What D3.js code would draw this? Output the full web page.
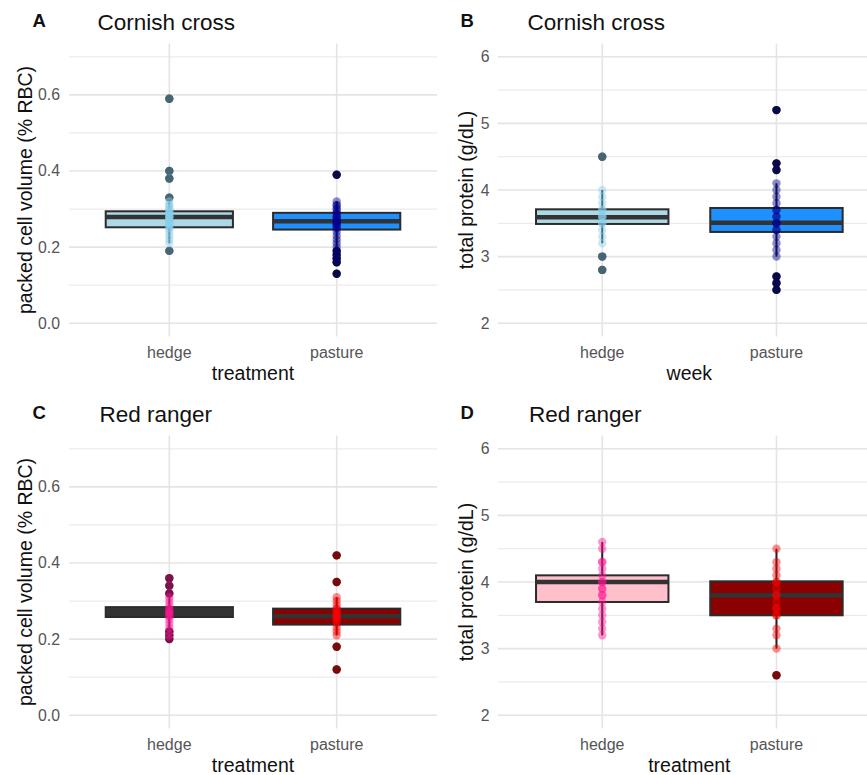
<!DOCTYPE html>
<html>
<head>
<meta charset="utf-8">
<script src="https://cdn.jsdelivr.net/npm/d3@7"></script>
<style>
  body { margin: 0; background: #fff; }
  svg { font-family: "Liberation Sans", Arial, sans-serif; }
</style>
</head>
<body>
<script>
var groups = ["hedge", "pasture"];

// box stats per group: [whisker low, q1, median, q3, whisker high]
var pcvCornishBox = [[0.21, 0.252, 0.279, 0.294, 0.32], [0.20, 0.246, 0.268, 0.290, 0.32]];
var tpCornishBox = [[3.2, 3.49, 3.59, 3.71, 4.0], [3.0, 3.37, 3.51, 3.73, 4.1]];
var pcvRangerBox = [[0.23, 0.258, 0.270, 0.284, 0.31], [0.21, 0.238, 0.260, 0.280, 0.31]];
var tpRangerBox = [[3.2, 3.70, 4.0, 4.10, 4.6], [3.0, 3.50, 3.80, 4.01, 4.5]];

// individual birds
var pcvCornishHedge = [0.59, 0.40, 0.38, 0.33, 0.32, 0.31, 0.31, 0.30, 0.30, 0.29, 0.29, 0.29, 0.28, 0.28, 0.28, 0.28,
  0.27, 0.27, 0.27, 0.26, 0.26, 0.26, 0.25, 0.25, 0.24, 0.23, 0.22, 0.21, 0.19];
var pcvCornishPasture = [0.39, 0.32, 0.31, 0.31, 0.30, 0.30, 0.29, 0.29, 0.28, 0.28, 0.28, 0.27, 0.27, 0.27, 0.26,
  0.26, 0.26, 0.25, 0.25, 0.24, 0.23, 0.22, 0.21, 0.20, 0.19, 0.18, 0.17, 0.16, 0.13];
var tpCornishHedge = [4.5, 4.0, 3.9, 3.8, 3.7, 3.7, 3.6, 3.6, 3.6, 3.5, 3.5, 3.4, 3.3, 3.2, 3.0, 2.8];
var tpCornishPasture = [5.2, 4.4, 4.3, 4.1, 4.0, 3.9, 3.8, 3.7, 3.7, 3.6, 3.6, 3.5, 3.5, 3.5, 3.4, 3.4, 3.3,
  3.2, 3.1, 3.0, 2.7, 2.6, 2.5];
var pcvRangerHedge = [0.36, 0.34, 0.32, 0.31, 0.30, 0.29, 0.28, 0.28, 0.27, 0.27, 0.27, 0.26, 0.26, 0.25, 0.24,
  0.23, 0.22, 0.21, 0.20];
var pcvRangerPasture = [0.42, 0.35, 0.31, 0.30, 0.29, 0.28, 0.28, 0.27, 0.27, 0.26, 0.26, 0.26, 0.25, 0.25, 0.24,
  0.23, 0.22, 0.21, 0.18, 0.12];
var tpRangerHedge = [4.6, 4.5, 4.3, 4.3, 4.2, 4.1, 4.0, 4.0, 3.9, 3.9, 3.8, 3.8, 3.7, 3.6, 3.5, 3.4, 3.3, 3.2];
var tpRangerPasture = [4.5, 4.3, 4.2, 4.1, 4.0, 4.0, 3.9, 3.8, 3.8, 3.7, 3.6, 3.6, 3.5, 3.5, 3.3, 3.2, 3.0, 2.6];

var pcvTicks = [0, 0.2, 0.4, 0.6], pcvMinor = [0.1, 0.3, 0.5, 0.7];
var tpTicks = [2, 3, 4, 5, 6], tpMinor = [2.5, 3.5, 4.5, 5.5];

var cornishFill = ["#add8e6", "#1e90ff"], cornishPts = ["#87ceeb", "#00008b"];
var rangerPcvFill = ["#333333", "#8b0000"];
var rangerFill = ["#ffc0cb", "#8b0000"], rangerPts = ["#ff1493", "#ff0000"];

var width = 867, height = 775;
var svg = d3.select("body").append("svg")
  .attr("width", width)
  .attr("height", height);

var panels = [
  { letter: "A", title: "Cornish cross", ytitle: "packed cell volume (% RBC)", xtitle: "treatment",
    oy: 0, xr: [68.9, 437.1], dom: [-0.035, 0.735], ticks: pcvTicks, minor: pcvMinor, fmt: ".1f",
    box: pcvCornishBox, pts: [pcvCornishHedge, pcvCornishPasture], fill: cornishFill, col: cornishPts,
    lx: 32.5, tx: 97.5, ytx: 32, tickx: 60 },
  { letter: "B", title: "Cornish cross", ytitle: "total protein (g/dL)", xtitle: "week",
    oy: 0, xr: [497.7, 881], dom: [1.8, 6.2], ticks: tpTicks, minor: tpMinor, fmt: "d",
    box: tpCornishBox, pts: [tpCornishHedge, tpCornishPasture], fill: cornishFill, col: cornishPts,
    lx: 460.5, tx: 527.5, ytx: 473, tickx: 489.5 },
  { letter: "C", title: "Red ranger", ytitle: "packed cell volume (% RBC)", xtitle: "treatment",
    oy: 392, xr: [68.9, 437.1], dom: [-0.035, 0.735], ticks: pcvTicks, minor: pcvMinor, fmt: ".1f",
    box: pcvRangerBox, pts: [pcvRangerHedge, pcvRangerPasture], fill: rangerPcvFill, col: rangerPts,
    lx: 32.5, tx: 99.5, ytx: 32, tickx: 60 },
  { letter: "D", title: "Red ranger", ytitle: "total protein (g/dL)", xtitle: "treatment",
    oy: 392, xr: [497.7, 881], dom: [1.8, 6.2], ticks: tpTicks, minor: tpMinor, fmt: "d",
    box: tpRangerBox, pts: [tpRangerHedge, tpRangerPasture], fill: rangerFill, col: rangerPts,
    lx: 460.5, tx: 529, ytx: 473, tickx: 489.5 }
];

panels.forEach(function (p) {
  var g = svg.append("g").attr("transform", "translate(0," + p.oy + ")");
  // ggplot discrete axis: centres at 1 and 2, expanded by 0.6 each side
  var xi = d3.scaleLinear().domain([0.4, 2.6]).range(p.xr);
  var cx = function (gname) { return xi(groups.indexOf(gname) + 1); };
  var y = d3.scaleLinear().domain(p.dom).range([336.5, 43.5]);
  var bw = xi(1.38) - xi(1);

  // grid
  g.selectAll(".minor").data(p.minor).enter().append("line")
    .attr("x1", p.xr[0]).attr("x2", p.xr[1])
    .attr("y1", function (d) { return y(d); }).attr("y2", function (d) { return y(d); })
    .attr("stroke", "#ebebeb").attr("stroke-width", 1.2);
  g.selectAll(".major").data(p.ticks).enter().append("line")
    .attr("x1", p.xr[0]).attr("x2", p.xr[1])
    .attr("y1", function (d) { return y(d); }).attr("y2", function (d) { return y(d); })
    .attr("stroke", "#e4e4e4").attr("stroke-width", 1.6);
  g.selectAll(".vgrid").data(groups).enter().append("line")
    .attr("x1", cx).attr("x2", cx)
    .attr("y1", 43.5).attr("y2", 336.5)
    .attr("stroke", "#e4e4e4").attr("stroke-width", 1.6);

  // y tick labels
  g.selectAll(".ytl").data(p.ticks).enter().append("text")
    .attr("x", p.tickx).attr("y", function (d) { return y(d) + 5.5; })
    .attr("text-anchor", "end").attr("font-size", 15.8).attr("fill", "#555")
    .text(function (d) { return d3.format(p.fmt)(d); });
  // x tick labels
  g.selectAll(".xtl").data(groups).enter().append("text")
    .attr("x", cx).attr("y", 358)
    .attr("text-anchor", "middle").attr("font-size", 16).attr("fill", "#555")
    .text(function (d) { return d; });

  // titles
  g.append("text").attr("x", (p.xr[0] + Math.min(p.xr[1], 867)) / 2 + (p.xr[1] > 867 ? 7 : 0)).attr("y", 380)
    .attr("text-anchor", "middle").attr("font-size", 19.5).attr("fill", "#111").text(p.xtitle);
  g.append("text").attr("transform", "translate(" + p.ytx + ",190) rotate(-90)")
    .attr("text-anchor", "middle").attr("font-size", 19.5).attr("fill", "#111").text(p.ytitle);
  g.append("text").attr("x", p.lx).attr("y", 27).attr("font-size", 18.5).attr("font-weight", "bold")
    .attr("fill", "#111").text(p.letter);
  g.append("text").attr("x", p.tx).attr("y", 29.5).attr("font-size", 22.5).attr("fill", "#111").text(p.title);

  // boxes
  groups.forEach(function (gname, i) {
    var s = p.box[i], c = cx(gname);
    var vals = p.pts[i];
    // outliers underneath (boxplot's own)
    g.selectAll(".out" + i).data(vals.filter(function (v) { return v < s[0] - 1e-9 || v > s[4] + 1e-9; }))
      .enter().append("circle")
      .attr("cx", c).attr("cy", function (d) { return y(d); }).attr("r", 4.2)
      .attr("fill", "#111");
    g.append("line").attr("x1", c).attr("x2", c).attr("y1", y(s[0])).attr("y2", y(s[4]))
      .attr("stroke", "#222").attr("stroke-width", 2);
    g.append("rect").attr("x", c - bw).attr("width", 2 * bw)
      .attr("y", y(s[3])).attr("height", y(s[1]) - y(s[3]))
      .attr("fill", p.fill[i]).attr("stroke", "#2b2b2b").attr("stroke-width", 2);
    g.append("line").attr("x1", c - bw).attr("x2", c + bw).attr("y1", y(s[2])).attr("y2", y(s[2]))
      .attr("stroke", "#333").attr("stroke-width", 4.5);
    // points
    g.selectAll(".pt" + i).data(vals).enter().append("circle")
      .attr("cx", c).attr("cy", function (d) { return y(d); }).attr("r", 4.2)
      .attr("fill", p.col[i]).attr("fill-opacity", 0.45);
  });
});
</script>
</body>
</html>
